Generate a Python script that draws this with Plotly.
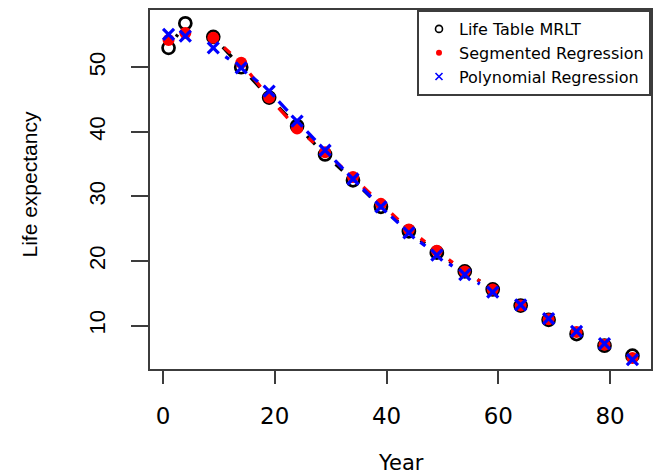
import math
import plotly.graph_objects as go

# ---------------- data ----------------
ages = [1, 4, 9, 14, 19, 24, 29, 34, 39, 44, 49, 54, 59, 64, 69, 74, 79, 84]

life_table_mrlt = [53.0, 56.8, 54.7, 50.0, 45.3, 40.9, 36.5, 32.5, 28.4, 24.6,
                   21.3, 18.4, 15.6, 13.1, 10.9, 8.7, 6.9, 5.35]

segmented_regression = [54.2, 55.3, 54.55, 50.7, 45.3, 40.5, 36.85, 33.0, 28.85, 24.9,
                        21.6, 18.4, 15.6, 13.1, 11.0, 9.0, 7.05, 5.0]

polynomial_regression = [55.1, 54.8, 53.0, 49.9, 46.3, 41.65, 37.15, 32.7, 28.4, 24.35,
                         20.9, 17.9, 15.2, 13.2, 11.1, 9.1, 7.2, 4.75]

series_names = ["Life Table MRLT", "Segmented Regression", "Polynomial Regression"]
x_tick_values = [0, 20, 40, 60, 80]
y_tick_values = [10, 20, 30, 40, 50]
x_title = "Year"
y_title = "Life expectancy"

# ---------------- layout constants ----------------
W, H = 656, 474
ML, MR, MT, MB = 150, 5, 10, 105
X_RANGE = [-2.32, 87.32]
Y_RANGE = [3.29, 58.86]
AXIS_COLOR = "#3c3c3c"

# pixel scales of the plotting area (used for the "points + broken line" look)
sx = (W - ML - MR) / (X_RANGE[1] - X_RANGE[0])
sy = (H - MT - MB) / (Y_RANGE[1] - Y_RANGE[0])
STRETCH = 1.35   # horizontal stretch of the original figure
GAP = 12.5       # gap (px) left around each point by the connecting line


def broken_line(xs, ys):
    """Line segments between consecutive points, leaving a gap around each point."""
    lx, ly = [], []
    for x0, y0, x1, y1 in zip(xs[:-1], ys[:-1], xs[1:], ys[1:]):
        d = math.hypot((x1 - x0) * sx / STRETCH, (y1 - y0) * sy)
        if d - 2 * GAP < 1.5:
            continue
        t0, t1 = GAP / d, 1 - GAP / d
        lx += [x0 + t0 * (x1 - x0), x0 + t1 * (x1 - x0), None]
        ly += [y0 + t0 * (y1 - y0), y0 + t1 * (y1 - y0), None]
    return lx, ly


fig = go.Figure()

styles = [
    (life_table_mrlt, "black",
     dict(symbol="circle-open", size=12, color="black", line=dict(width=2.7, color="black")),
     dict(symbol="circle-open", size=7, color="black", line=dict(width=1.6, color="black"))),
    (segmented_regression, "red",
     dict(symbol="circle", size=12, color="red", line=dict(width=0)),
     dict(symbol="circle", size=6, color="red", line=dict(width=0))),
    (polynomial_regression, "blue",
     dict(symbol="x-thin-open", size=11, color="blue", line=dict(width=3.2, color="blue")),
     dict(symbol="x-thin-open", size=7, color="blue", line=dict(width=1.6, color="blue"))),
]

for name, (vals, col, mk, legmk) in zip(series_names, styles):
    lx, ly = broken_line(ages, vals)
    fig.add_trace(go.Scatter(x=lx, y=ly, mode="lines", line=dict(color=col, width=3.3),
                             showlegend=False, hoverinfo="skip", connectgaps=False))
    fig.add_trace(go.Scatter(x=ages, y=vals, mode="markers", marker=mk, showlegend=False, name=name))

# legend-only entries (small symbols as in the reference)
for name, (vals, col, mk, legmk) in zip(series_names, styles):
    fig.add_trace(go.Scatter(x=[None], y=[None], mode="markers", marker=legmk, name=name, showlegend=True))

fig.update_layout(
    width=W, height=H,
    margin=dict(l=ML, r=MR, t=MT, b=MB, pad=0),
    paper_bgcolor="white", plot_bgcolor="white",
    showlegend=True,
    legend=dict(x=1, y=1, xanchor="right", yanchor="top",
                bgcolor="white", bordercolor=AXIS_COLOR, borderwidth=2,
                font=dict(family="DejaVu Sans", size=16, color="black"),
                tracegroupgap=0, itemsizing="trace"),
    xaxis=dict(range=X_RANGE, tickmode="array", tickvals=x_tick_values,
               showgrid=False, zeroline=False, showline=True, mirror=True,
               linecolor=AXIS_COLOR, linewidth=2,
               ticks="outside", ticklen=13, tickwidth=2, tickcolor=AXIS_COLOR,
               tickfont=dict(family="DejaVu Sans", size=23, color="black"),
               ticklabelstandoff=12, automargin=False),
    yaxis=dict(range=Y_RANGE, tickmode="array", tickvals=y_tick_values,
               showgrid=False, zeroline=False, showline=True, mirror=True,
               linecolor=AXIS_COLOR, linewidth=2,
               ticks="outside", ticklen=17, tickwidth=2, tickcolor=AXIS_COLOR,
               tickangle=-90,
               tickfont=dict(family="Liberation Sans", size=22, color="black"),
               ticklabelstandoff=17, automargin=False),
    annotations=[
        dict(text=x_title, xref="paper", yref="paper", x=0.5, y=0,
             xanchor="center", yanchor="middle", yshift=-94, showarrow=False,
             font=dict(family="DejaVu Sans", size=21, color="black")),
        dict(text=y_title, xref="paper", yref="paper", x=0, y=0.5,
             xanchor="center", yanchor="middle", xshift=-121, yshift=5, textangle=-90,
             showarrow=False, font=dict(family="Liberation Sans", size=21, color="black")),
    ],
)

fig.write_html("out.html", config={"displayModeBar": False},
               post_script="document.body.style.margin='0';")
